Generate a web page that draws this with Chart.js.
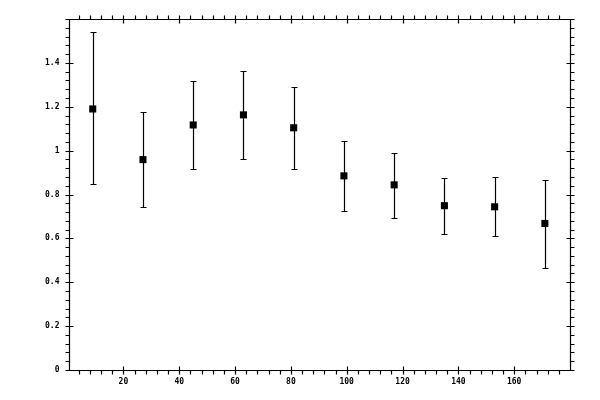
<!DOCTYPE html>
<html>
<head>
<meta charset="utf-8">
<script src="https://cdn.jsdelivr.net/npm/chart.js@4.4.1/dist/chart.umd.min.js"></script>
<style>
    html, body { margin: 0; padding: 0; background: #fff; }
    #wrap { width: 600px; height: 400px; position: relative; }
</style>
</head>
<body>
<div id="wrap"><canvas id="chart"></canvas></div>
<script>
// данные
const xValues = [9, 27, 45, 63, 81, 99, 117, 135, 153, 171];
const yValues = [1.190, 0.959, 1.117, 1.163, 1.104, 0.885, 0.844, 0.749, 0.744, 0.668];
const yUpper  = [1.541, 1.177, 1.318, 1.363, 1.291, 1.045, 0.990, 0.876, 0.881, 0.867];
const yLower  = [0.846, 0.742, 0.917, 0.963, 0.917, 0.726, 0.694, 0.621, 0.609, 0.466];

const xMajorTicks = [20, 40, 60, 80, 100, 120, 140, 160];
const xMinorTicks = [4, 8, 12, 16, 24, 28, 32, 36, 44, 48, 52, 56, 64, 68, 72, 76, 84, 88, 92, 96,
    104, 108, 112, 116, 124, 128, 132, 136, 144, 148, 152, 156, 164, 168, 172, 176];
const yMajorTicks = [0, 0.2, 0.4, 0.6, 0.8, 1, 1.2, 1.4, 1.6];
const yTickLabels = ['0', '0.2', '0.4', '0.6', '0.8', '1', '1.2', '1.4', ''];
const yMinorTicks = [0.04, 0.08, 0.12, 0.16, 0.24, 0.28, 0.32, 0.36, 0.44, 0.48, 0.52, 0.56,
    0.64, 0.68, 0.72, 0.76, 0.84, 0.88, 0.92, 0.96, 1.04, 1.08, 1.12, 1.16,
    1.24, 1.28, 1.32, 1.36, 1.44, 1.48, 1.52, 1.56];

const points = xValues.map((x, i) => ({ x: x, y: yValues[i] }));

// планки погрешностей
const errorBars = {
    id: 'errorBars',
    beforeDatasetsDraw(chart) {
        const { ctx, scales: { x, y } } = chart;
        ctx.save();
        ctx.strokeStyle = '#000';
        ctx.lineWidth = 1.2;
        ctx.beginPath();
        xValues.forEach((xv, i) => {
            const px = Math.round(x.getPixelForValue(xv)) + 0.5;
            const top = Math.round(y.getPixelForValue(yUpper[i])) + 0.5;
            const bot = Math.round(y.getPixelForValue(yLower[i])) + 0.5;
            ctx.moveTo(px, top); ctx.lineTo(px, bot);
            ctx.moveTo(px - 3, top); ctx.lineTo(px + 3, top);
            ctx.moveTo(px - 3, bot); ctx.lineTo(px + 3, bot);
        });
        ctx.stroke();
        ctx.restore();
    }
};

// рамка, засечки и подписи осей
const frameAxes = {
    id: 'frameAxes',
    afterDraw(chart) {
        const { ctx, chartArea: a, scales: { x, y } } = chart;
        const L = Math.round(a.left) + 0.5, R = Math.round(a.right) + 0.5;
        const T = Math.round(a.top) + 0.5, B = Math.round(a.bottom) + 0.5;
        ctx.save();
        ctx.strokeStyle = '#000';
        ctx.lineWidth = 1.2;
        ctx.beginPath();
        ctx.rect(L, T, R - L, B - T);

        xMajorTicks.forEach(v => {
            const px = Math.round(x.getPixelForValue(v)) + 0.5;
            ctx.moveTo(px, B - 4); ctx.lineTo(px, B + 4);
            ctx.moveTo(px, T - 4); ctx.lineTo(px, T + 4);
        });
        xMinorTicks.forEach(v => {
            const px = Math.round(x.getPixelForValue(v)) + 0.5;
            ctx.moveTo(px, B); ctx.lineTo(px, B + 4);
            ctx.moveTo(px, T); ctx.lineTo(px, T - 4);
        });
        yMajorTicks.forEach(v => {
            const py = Math.round(y.getPixelForValue(v)) + 0.5;
            ctx.moveTo(L - 4, py); ctx.lineTo(L + 4, py);
            ctx.moveTo(R - 4, py); ctx.lineTo(R + 4, py);
        });
        yMinorTicks.forEach(v => {
            const py = Math.round(y.getPixelForValue(v)) + 0.5;
            ctx.moveTo(L - 4, py); ctx.lineTo(L, py);
            ctx.moveTo(R, py); ctx.lineTo(R + 4, py);
        });
        ctx.stroke();

        ctx.fillStyle = '#000';
        ctx.font = 'bold 8px "DejaVu Sans Mono"';
        ctx.textAlign = 'right';
        ctx.textBaseline = 'middle';
        yMajorTicks.forEach((v, i) => {
            ctx.fillText(yTickLabels[i], L - 10, y.getPixelForValue(v));
        });
        ctx.textAlign = 'center';
        xMajorTicks.forEach(v => {
            ctx.fillText(String(v), x.getPixelForValue(v), B + 11);
        });
        ctx.restore();
    }
};

new Chart(document.getElementById('chart'), {
    type: 'scatter',
    data: {
        datasets: [{
            data: points,
            backgroundColor: '#000',
            borderColor: '#000',
            borderWidth: 0,
            pointStyle: 'rect',
            pointRadius: 5,
            pointHoverRadius: 5
        }]
    },
    options: {
        responsive: true,
        maintainAspectRatio: false,
        animation: false,
        layout: { padding: { left: 69, top: 19, right: 30, bottom: 30 } },
        plugins: {
            legend: { display: false },
            tooltip: { enabled: false }
        },
        scales: {
            x: { type: 'linear', min: 0.5, max: 180, display: false },
            y: { type: 'linear', min: 0, max: 1.6, display: false }
        }
    },
    plugins: [errorBars, frameAxes]
});
</script>
</body>
</html>
